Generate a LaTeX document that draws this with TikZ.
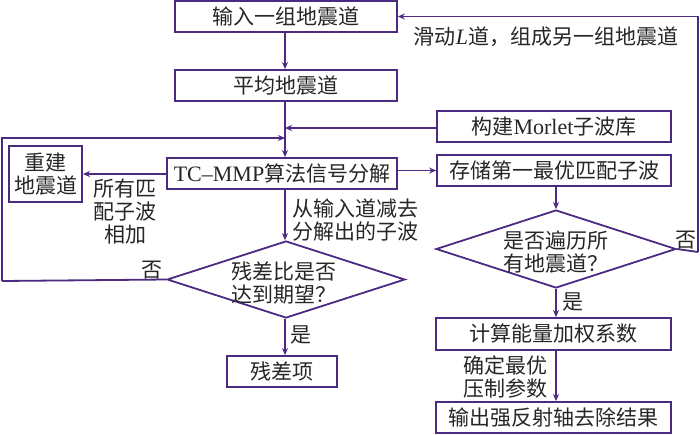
\documentclass[tikz,border=0pt]{standalone}
\usepackage{fontspec}
\setmainfont{Liberation Serif}
\newfontfamily\cjk{Noto Sans CJK SC}
\usetikzlibrary{shapes.geometric,arrows.meta}
\definecolor{ln}{HTML}{4B2A82}
\tikzset{
  box/.style={draw=ln,line width=1.8pt,inner sep=0pt,minimum height=31pt,font=\cjk\fontsize{21}{23}\selectfont,align=center,text=black!85},
  dia/.style={draw=ln,line width=1.8pt,diamond,inner sep=0pt,aspect=1},
  lbl/.style={font=\cjk\fontsize{21}{23}\selectfont,align=center,inner sep=0pt,text=black!85},
  conn/.style={draw=ln,line width=1.8pt,-{Stealth[length=7pt,width=6pt]}},
  wire/.style={draw=ln,line width=1.8pt}
}
\begin{document}
\begin{tikzpicture}[x=1pt,y=-1pt]
\useasboundingbox (0,0) rectangle (700,434);
% boxes
\node[box,minimum width=222pt] (b1) at (286,16.5) {输入一组地震道};
\node[box,minimum width=222pt] (b2) at (286,85.5) {平均地震道};
\node[box,minimum width=234pt] (mor) at (554,126.5) {构建{\rmfamily\fontsize{22}{23}\selectfont Morlet}子波库};
\node[box,minimum width=234pt] (sto) at (554,170.5) {存储第一最优匹配子波};
\node[box,minimum width=230pt] (tc) at (282,173.5) {{\rmfamily\fontsize{22}{23}\selectfont TC–MMP}算法信号分解};
\node[box,minimum width=73pt,minimum height=56pt] (reb) at (45.5,174) {重建\\地震道};
\node[dia,minimum width=238pt,minimum height=77pt] (d1) at (286,279.5) {};
\node[lbl] (d1t) at (284,283) {残差比是否\\达到期望？};
\node[box,minimum width=110pt] (res) at (282,371.5) {残差项};
\node[dia,minimum width=240pt,minimum height=78pt] (d2) at (556,249) {};
\node[lbl] (d2t) at (556,252.5) {是否遍历所\\有地震道？};
\node[box,minimum width=235pt,minimum height=32pt] (calc) at (553.5,334) {计算能量加权系数};
\node[box,minimum width=235pt] (out) at (553.5,417.5) {输出强反射轴去除结果};
% coordinates
\coordinate (j1) at (285,128);
\coordinate (j2) at (285,138);
\coordinate (lx) at (2,281);
\coordinate (rx) at (698,252);
% connectors
\draw[conn] (b1.south -| j1) -- (b2.north -| j1);
\draw[conn] (b2.south -| j1) -- (tc.north -| j1);
\draw[conn] (mor.west |- j1) -- (j1);
\draw[wire] (d1.west) -- (lx);
\draw[conn] (lx) -- (lx |- j2) -- (j2);
\draw[conn] (tc.east |- sto.west) -- (sto.west);
\draw[conn] (tc.west |- reb.east) -- (reb.east);
\draw[conn] (tc.south -| j1) -- (d1.north -| j1);
\draw[conn] (d1.south -| j1) -- (res.north -| j1);
\draw[conn] (sto.south -| d2.north) -- (d2.north);
\draw[wire] (d2.east) -- (rx);
\draw[conn] (rx) -- (rx |- b1.east) -- (b1.east);
\draw[conn] (d2.south) -- (calc.north -| d2.south);
\draw[conn] (calc.south -| d2.south) -- (out.north -| d2.south);
% labels
\node[lbl] (l1) at (125,212) {所有匹\\配子波\\相加};
\node[lbl] (l2) at (355,220) {从输入道减去\\分解出的子波};
\node[lbl] (l3) at (152,270) {否};
\node[lbl] (l4) at (301,335) {是};
\node[lbl] (l5) at (686,240) {否};
\node[lbl] (l6) at (573,302) {是};
\node[lbl] (l7) at (546,37) {滑动{\rmfamily\itshape\fontsize{22}{23}\selectfont L}道，组成另一组地震道};
\node[lbl] (l8) at (505,377) {确定最优\\压制参数};
\end{tikzpicture}
\end{document}
